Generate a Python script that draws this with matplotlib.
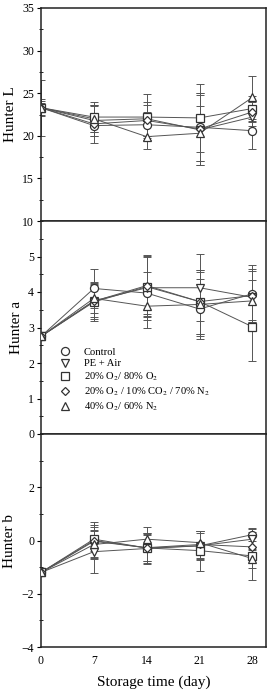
import matplotlib
matplotlib.use('Agg')
import matplotlib.pyplot as plt
from matplotlib.lines import Line2D
from matplotlib.ticker import MultipleLocator
import numpy as np

plt.rcParams['font.family'] = ['Liberation Serif', 'DejaVu Serif']
plt.rcParams['mathtext.fontset'] = 'stix'

days = [0, 7, 14, 21, 28]
labels = ['Control', 'PE + Air', r'20% O$_2$/ 80% O$_2$',
          r'20% O$_2$ / 10% CO$_2$ / 70% N$_2$', r'40% O$_2$/ 60% N$_2$']
markers = ['o', 'v', 's', 'D', '^']
msizes = [5.8, 5.2, 5.2, 4.4, 5.8]

# Hunter L
L_control = [23.3, 21.2, 21.3, 21.0, 20.6]
L_pe = [23.3, 21.8, 22.0, 20.7, 22.2]
L_o2 = [23.3, 22.2, 22.2, 22.1, 23.2]
L_co2 = [23.3, 21.4, 21.8, 20.8, 22.8]
L_n2 = [23.3, 22.0, 19.9, 20.3, 24.5]
L_control_err = [1.0, 1.2, 1.5, 4.0, 2.2]
L_pe_err = [0.5, 1.8, 2.0, 4.1, 1.0]
L_o2_err = [0.8, 1.8, 2.7, 4.0, 1.5]
L_co2_err = [3.3, 2.2, 1.8, 4.2, 1.2]
L_n2_err = [0.4, 1.5, 1.5, 3.2, 2.5]

# Hunter a
a_control = [2.75, 4.10, 3.97, 3.52, 3.95]
a_pe = [2.75, 3.75, 4.12, 4.12, 3.85]
a_o2 = [2.75, 3.72, 4.15, 3.73, 3.02]
a_co2 = [2.75, 3.74, 4.18, 3.73, 3.90]
a_n2 = [2.75, 3.82, 3.60, 3.65, 3.75]
a_control_err = [0.05, 0.55, 0.60, 0.85, 0.80]
a_pe_err = [0.05, 0.50, 0.90, 0.95, 0.80]
a_o2_err = [0.05, 0.55, 0.85, 0.90, 0.97]
a_co2_err = [0.05, 0.45, 0.87, 0.90, 0.70]
a_n2_err = [0.05, 0.40, 0.62, 0.90, 0.60]

# Hunter b
b_control = [-1.2, 0.00, -0.28, -0.20, 0.22]
b_pe = [-1.2, -0.42, -0.30, -0.20, 0.05]
b_o2 = [-1.2, 0.05, -0.28, -0.38, -0.58]
b_co2 = [-1.2, -0.03, -0.27, -0.15, -0.24]
b_n2 = [-1.2, -0.15, 0.05, -0.08, -0.68]
b_control_err = [0.05, 0.70, 0.50, 0.55, 0.25]
b_pe_err = [0.05, 0.80, 0.60, 0.50, 0.40]
b_o2_err = [0.05, 0.45, 0.55, 0.75, 0.90]
b_co2_err = [0.05, 0.60, 0.50, 0.50, 0.50]
b_n2_err = [0.05, 0.50, 0.45, 0.42, 0.35]

# label, series, errors, ylim, major step, minor step, label the top tick?
panels = [
    ('Hunter L', [L_control, L_pe, L_o2, L_co2, L_n2],
     [L_control_err, L_pe_err, L_o2_err, L_co2_err, L_n2_err], (10, 35), 5, 2.5, True),
    ('Hunter a', [a_control, a_pe, a_o2, a_co2, a_n2],
     [a_control_err, a_pe_err, a_o2_err, a_co2_err, a_n2_err], (0, 6), 1, 0.5, False),
    ('Hunter b', [b_control, b_pe, b_o2, b_co2, b_n2],
     [b_control_err, b_pe_err, b_o2_err, b_co2_err, b_n2_err], (-4, 4), 2, 1, False),
]

fig = plt.figure(figsize=(2.68, 6.9), dpi=100)
left, width = 41 / 268, 225 / 268
h = 213 / 690
bottoms = [1 - (8 + 213) / 690, 1 - (8 + 2 * 213) / 690, 1 - (8 + 3 * 213) / 690]

for i, (ylab, series, errs, ylim, major, minor, top_lab) in enumerate(panels):
    ax = fig.add_axes([left, bottoms[i], width, h])
    for vals, err, m, ms in zip(series, errs, markers, msizes):
        ax.errorbar(days, vals, yerr=err, fmt='none', ecolor='#555555',
                    elinewidth=0.7, capsize=3, capthick=0.7, zorder=2)
        ax.plot(days, vals, color='#555555', lw=0.7, zorder=3)
        ax.plot(days, vals, ls='none', marker=m, ms=ms, mfc='white',
                mec='#333333', mew=0.9, zorder=4)
    ax.set_xlim(0, 29.8)
    ax.set_ylim(*ylim)
    ax.yaxis.set_minor_locator(MultipleLocator(minor))
    end = ylim[1] + (major * 0.5 if top_lab else 0)
    ax.set_yticks(np.arange(ylim[0], end, major))
    ax.tick_params(axis='y', which='major', direction='out', length=3,
                   width=0.8, labelsize=8.5, pad=2)
    ax.tick_params(axis='y', which='minor', direction='inout', length=3, width=0.6)
    ax.set_ylabel(ylab, fontsize=11, labelpad=4)
    ax.set_xticks(days)
    ax.tick_params(axis='x', direction='out', length=0, labelsize=8.5, pad=6)
    if i < 2:
        ax.set_xticklabels([])
    else:
        ax.set_xlabel('Storage time (day)', fontsize=11, labelpad=6)
    for s in ax.spines.values():
        s.set_linewidth(1.1)
        s.set_color('#222222')
    if i == 1:
        handles = [Line2D([], [], ls='none', marker=m, ms=ms, mfc='white',
                          mec='#333333', mew=0.9) for m, ms in zip(markers, msizes)]
        ax.legend(handles, labels, loc='lower left', bbox_to_anchor=(0.06, 0.075),
                  frameon=False, fontsize=7.6, handlelength=1.0,
                  handletextpad=1.3, labelspacing=0.22, borderpad=0)

fig.savefig('out.png', dpi=100)
